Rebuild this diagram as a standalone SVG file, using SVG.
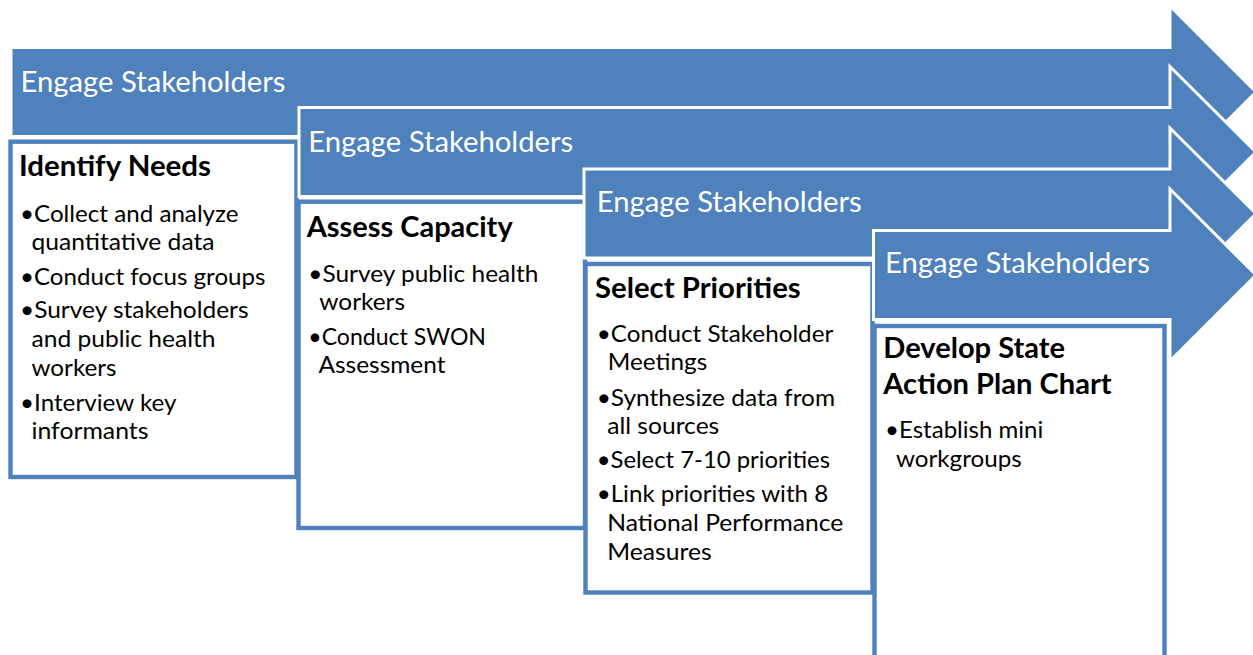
<svg xmlns="http://www.w3.org/2000/svg" width="1253" height="655" viewBox="0 0 1253 655">
<style>
.arrow{fill:#4F81BD;stroke:#FFFFFF;stroke-width:3;stroke-linejoin:miter}
.box{fill:#FFFFFF;stroke:#4F81BD;stroke-width:4.4}
.lbl{font-family:Lato,"Noto Sans","Liberation Sans",sans-serif;font-size:28.5px;fill:#FFFFFF}
.ttl{font-family:Lato,"Noto Sans","Liberation Sans",sans-serif;font-size:28.5px;font-weight:bold;fill:#000000}
.txt{font-family:Lato,"Noto Sans","Liberation Sans",sans-serif;font-size:24px;fill:#000000}
</style>
<rect width="1253" height="655" fill="#FFFFFF"/>
<g id="connectors"></g>

<g id="arrow1">
<path class="arrow" d="M11,47.5 H1170 V6 L1256,92 L1170,178 V136.5 H11 Z"/>
<text class="lbl" x="20.5" y="91.7" textLength="265" lengthAdjust="spacingAndGlyphs">Engage Stakeholders</text>
</g>
<g id="step1">
<rect class="box" x="10.5" y="141.7" width="286" height="335.3"/>
<text class="ttl" x="19" y="176" textLength="192" lengthAdjust="spacingAndGlyphs">Identify Needs</text>
<text class="txt" x="20" y="221.7" textLength="218.5" lengthAdjust="spacingAndGlyphs">•Collect and analyze</text>
<text class="txt" x="31.5" y="250" textLength="183" lengthAdjust="spacingAndGlyphs">quantitative data</text>
<text class="txt" x="20" y="284.5" textLength="245.5" lengthAdjust="spacingAndGlyphs">•Conduct focus groups</text>
<text class="txt" x="20" y="317.5" textLength="228.5" lengthAdjust="spacingAndGlyphs">•Survey stakeholders</text>
<text class="txt" x="31.5" y="347" textLength="184" lengthAdjust="spacingAndGlyphs">and public health</text>
<text class="txt" x="31.5" y="375.5" textLength="85" lengthAdjust="spacingAndGlyphs">workers</text>
<text class="txt" x="20" y="410.7" textLength="156.5" lengthAdjust="spacingAndGlyphs">•Interview key</text>
<text class="txt" x="31.5" y="439" textLength="117" lengthAdjust="spacingAndGlyphs">informants</text>
</g>

<g id="arrow2">
<path class="arrow" d="M299,107.5 H1170 V66.5 L1256,152 L1170,238 V196.5 H299 Z"/>
<text class="lbl" x="308.3" y="151.7" textLength="265" lengthAdjust="spacingAndGlyphs">Engage Stakeholders</text>
</g>
<g id="step2">
<rect class="box" x="298.5" y="201.7" width="286.5" height="326.3"/>
<text class="ttl" x="306.7" y="237" textLength="206" lengthAdjust="spacingAndGlyphs">Assess Capacity</text>
<text class="txt" x="308.3" y="281.7" textLength="230" lengthAdjust="spacingAndGlyphs">•Survey public health</text>
<text class="txt" x="319.3" y="310" textLength="85.7" lengthAdjust="spacingAndGlyphs">workers</text>
<text class="txt" x="308.3" y="344.5" textLength="177.7" lengthAdjust="spacingAndGlyphs">•Conduct SWON</text>
<text class="txt" x="318.5" y="373.3" textLength="127" lengthAdjust="spacingAndGlyphs">Assessment</text>
</g>

<g id="arrow3">
<path class="arrow" d="M584,169 H1170 V128 L1256,213.5 L1170,299.5 V258 H584 Z"/>
<text class="lbl" x="596.7" y="212.3" textLength="265" lengthAdjust="spacingAndGlyphs">Engage Stakeholders</text>
</g>
<g id="step3">
<rect class="box" x="585.5" y="264" width="287" height="328.5"/>
<text class="ttl" x="595" y="297.5" textLength="205.7" lengthAdjust="spacingAndGlyphs">Select Priorities</text>
<text class="txt" x="596.7" y="341.7" textLength="236.6" lengthAdjust="spacingAndGlyphs">•Conduct Stakeholder</text>
<text class="txt" x="607.7" y="370" textLength="99.6" lengthAdjust="spacingAndGlyphs">Meetings</text>
<text class="txt" x="596.7" y="405.7" textLength="238.3" lengthAdjust="spacingAndGlyphs">•Synthesize data from</text>
<text class="txt" x="607.2" y="434" textLength="112.1" lengthAdjust="spacingAndGlyphs">all sources</text>
<text class="txt" x="596.7" y="468.3" textLength="233.3" lengthAdjust="spacingAndGlyphs">•Select 7-10 priorities</text>
<text class="txt" x="596.7" y="501.7" textLength="231.6" lengthAdjust="spacingAndGlyphs">•Link priorities with 8</text>
<text class="txt" x="607.3" y="531" textLength="236" lengthAdjust="spacingAndGlyphs">National Performance</text>
<text class="txt" x="607.3" y="559.5" textLength="104.4" lengthAdjust="spacingAndGlyphs">Measures</text>
</g>

<g id="arrow4">
<path class="arrow" d="M873.5,230.5 H1170 V189 L1256,275 L1170,361 V319.5 H873.5 Z"/>
<text class="lbl" x="885" y="273.3" textLength="265" lengthAdjust="spacingAndGlyphs">Engage Stakeholders</text>
</g>
<g id="step4">
<rect class="box" x="874.5" y="326" width="290" height="400"/>
<text class="ttl" x="883.3" y="357.5" textLength="181.7" lengthAdjust="spacingAndGlyphs">Develop State</text>
<text class="ttl" x="883.3" y="393.5" textLength="228.4" lengthAdjust="spacingAndGlyphs">Action Plan Chart</text>
<text class="txt" x="885" y="438.3" textLength="158.3" lengthAdjust="spacingAndGlyphs">•Establish mini</text>
<text class="txt" x="896" y="466.7" textLength="125.7" lengthAdjust="spacingAndGlyphs">workgroups</text>
</g>
</svg>
